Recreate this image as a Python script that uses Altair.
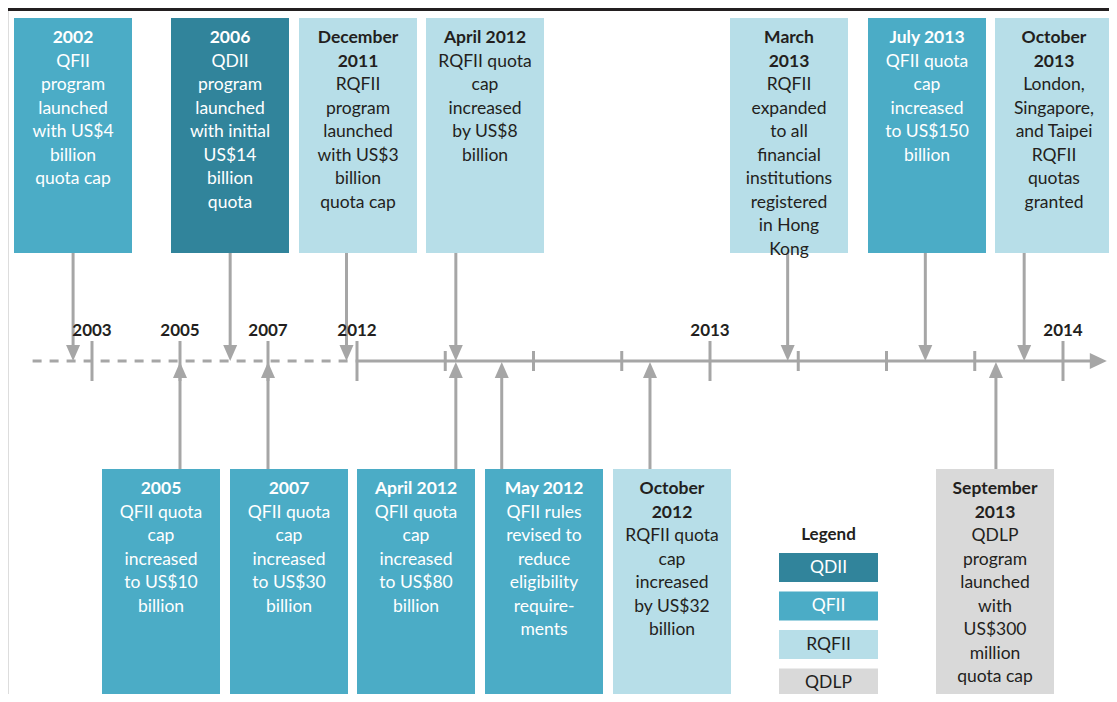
import altair as alt
import pandas as pd

# ---------------- data ----------------
titles = ["2002", "2006", "December\n2011", "April 2012", "March\n2013", "July 2013", "October\n2013",
          "2005", "2007", "April 2012", "May 2012", "October\n2012", "September\n2013"]
bodies = [
    "QFII\nprogram\nlaunched\nwith US$4\nbillion\nquota cap",
    "QDII\nprogram\nlaunched\nwith initial\nUS$14\nbillion\nquota",
    "RQFII\nprogram\nlaunched\nwith US$3\nbillion\nquota cap",
    "RQFII quota\ncap\nincreased\nby US$8\nbillion",
    "RQFII\nexpanded\nto all\nfinancial\ninstitutions\nregistered\nin Hong\nKong",
    "QFII quota\ncap\nincreased\nto US$150\nbillion",
    "London,\nSingapore,\nand Taipei\nRQFII\nquotas\ngranted",
    "QFII quota\ncap\nincreased\nto US$10\nbillion",
    "QFII quota\ncap\nincreased\nto US$30\nbillion",
    "QFII quota\ncap\nincreased\nto US$80\nbillion",
    "QFII rules\nrevised to\nreduce\neligibility\nrequire-\nments",
    "RQFII quota\ncap\nincreased\nby US$32\nbillion",
    "QDLP\nprogram\nlaunched\nwith\nUS$300\nmillion\nquota cap",
]
programs = ["QFII", "QDII", "RQFII", "RQFII", "RQFII", "QFII", "RQFII",
            "QFII", "QFII", "QFII", "QFII", "RQFII", "QDLP"]
sides = ["top"] * 7 + ["bottom"] * 6
# position of each event on the (broken) time axis, in decimal years
event_time = [2002.57, 2006.14, 2011.97, 2012.28, 2013.22, 2013.61, 2013.89,
              2005.0, 2007.0, 2012.28, 2012.41, 2012.83, 2013.81]

tick_time = [2003, 2005, 2007, 2012, 2012.25, 2012.5, 2012.75, 2013, 2013.25, 2013.5, 2013.75, 2014]
tick_label = ["2003", "2005", "2007", "2012", "", "", "", "2013", "", "", "", "2014"]

legend_items = ["QDII", "QFII", "RQFII", "QDLP"]
program_colors = ["#31849B", "#4BACC6", "#B7DEE8", "#D9D9D9"]
text_colors = {"QDII": "#FFFFFF", "QFII": "#FFFFFF", "RQFII": "#231F20", "QDLP": "#231F20"}

# ---------------- layout ----------------
box_left = [14, 171, 299, 426, 730, 868, 995, 102, 230, 357, 485, 613, 936]
BOX_W = 118
TOP_Y0, TOP_Y1 = 18, 253
BOT_Y0, BOT_Y1 = 469, 710
AXIS_Y = 361
LINE_H = 23.5
FONT = "Lato"

boxes, lines, stems = [], [], []
for t, b, p, s, left, et in zip(titles, bodies, programs, sides, box_left, event_time):
    y0, y1 = (TOP_Y0, TOP_Y1) if s == "top" else (BOT_Y0, BOT_Y1)
    boxes.append(dict(x=left, x2=left + BOX_W, y=y0, y2=y1, program=p))
    parts = [(l, True) for l in t.split("\n")] + [(l, False) for l in b.split("\n")]
    for j, (l, bold) in enumerate(parts):
        lines.append(dict(x=left + BOX_W / 2, y=y0 + 20 + j * LINE_H, text=l, bold=bold,
                          tcolor=text_colors[p]))
    if s == "top":
        stems.append(dict(t=et, y=y1, y2=AXIS_Y - 10, ah=AXIS_Y - 8, side=s))
    else:
        stems.append(dict(t=et, y=AXIS_Y + 10, y2=y0, ah=AXIS_Y + 9, side=s))

boxes = pd.DataFrame(boxes)
lines = pd.DataFrame(lines)
stems = pd.DataFrame(stems)
ticks = pd.DataFrame(dict(t=tick_time, label=tick_label))
ticks["major"] = ticks["label"] != ""
ticks["y"] = [AXIS_Y - 20 if m else AXIS_Y - 10 for m in ticks["major"]]
ticks["y2"] = [AXIS_Y + 20 if m else AXIS_Y + 10 for m in ticks["major"]]
ticks["ly"] = AXIS_Y - 30

axis_df = pd.DataFrame(dict(t0=[2001.65, 2012.0], t1=[2012.0, 2014.08], dashed=[True, False], y=[AXIS_Y, AXIS_Y]))
arrow_end = pd.DataFrame(dict(t=[2014.1], y=[AXIS_Y]))

leg = pd.DataFrame(dict(program=legend_items))
leg["y"] = [553 + i * 38.5 for i in range(len(legend_items))]
leg["y2"] = leg["y"] + 29
leg["ty"] = leg["y"] + 14.5
leg["x"] = 779
leg["x2"] = 878
leg["tx"] = 828.5
leg["tcolor"] = [text_colors[p] for p in legend_items]
leg_title = pd.DataFrame(dict(x=[828.5], y=[535], text=["Legend"]))

# ---------------- scales ----------------
W, H = 1101, 686
px_x = alt.Scale(domain=[8, 8 + W], nice=False, zero=False)
px_y = alt.Scale(domain=[8, 8 + H], reverse=True, nice=False, zero=False)
time_x = alt.Scale(domain=[2003, 2005, 2007, 2011.92, 2012, 2014],
                   range=[84, 172, 260, 321, 349, 1055], nice=False, zero=False)
col_scale = alt.Scale(domain=legend_items, range=program_colors)
GRAY = "#A6A6A6"

def X(f):
    return alt.X(f, type="quantitative", scale=px_x, axis=None)

def Y(f):
    return alt.Y(f, type="quantitative", scale=px_y, axis=None)

def T(f):
    return alt.X(f, type="quantitative", scale=time_x, axis=None)

topline = alt.Chart(pd.DataFrame(dict(a=[0]))).mark_rule(color="#231F20", strokeWidth=3).encode(
    x=alt.value(0), x2=alt.value(W), y=alt.value(1.5))

box_layer = alt.Chart(boxes).mark_rect().encode(
    x=X("x"), x2="x2", y=Y("y"), y2="y2",
    color=alt.Color("program:N", scale=col_scale, legend=None))

txt_bold = alt.Chart(lines).transform_filter("datum.bold").mark_text(
    font=FONT, fontSize=17.5, fontWeight="bold", baseline="middle", align="center").encode(
    x=X("x"), y=Y("y"), text="text:N", color=alt.Color("tcolor:N", scale=None))
txt_norm = alt.Chart(lines).transform_filter("!datum.bold").mark_text(
    font=FONT, fontSize=17.5, baseline="middle", align="center").encode(
    x=X("x"), y=Y("y"), text="text:N", color=alt.Color("tcolor:N", scale=None))

axis_dash = alt.Chart(axis_df).transform_filter("datum.dashed").mark_rule(
    color=GRAY, strokeWidth=3, strokeDash=[9, 8]).encode(x=T("t0"), x2="t1", y=Y("y"))
axis_solid = alt.Chart(axis_df).transform_filter("!datum.dashed").mark_rule(
    color=GRAY, strokeWidth=3).encode(x=T("t0"), x2="t1", y=Y("y"))
axis_head = alt.Chart(arrow_end).mark_point(
    shape="M-1,-0.95L1,0L-1,0.95Z", size=289, filled=True, color=GRAY, opacity=1, strokeWidth=0).encode(
    x=T("t"), y=Y("y"))

tick_layer = alt.Chart(ticks).mark_rule(color=GRAY, strokeWidth=3).encode(
    x=T("t"), y=Y("y"), y2="y2")
tick_text = alt.Chart(ticks).mark_text(
    font=FONT, fontSize=17, fontWeight="bold", color="#231F20", baseline="middle", align="center").encode(
    x=T("t"), y=Y("ly"), text="label:N")

stem_layer = alt.Chart(stems).mark_rule(color=GRAY, strokeWidth=3).encode(
    x=T("t"), y=Y("y"), y2="y2")
head_down = alt.Chart(stems).transform_filter("datum.side == 'top'").mark_point(
    shape="M-0.875,-1L0.875,-1L0,1Z", size=256, filled=True, color=GRAY, opacity=1, strokeWidth=0).encode(
    x=T("t"), y=Y("ah"))
head_up = alt.Chart(stems).transform_filter("datum.side == 'bottom'").mark_point(
    shape="M-0.875,1L0.875,1L0,-1Z", size=256, filled=True, color=GRAY, opacity=1, strokeWidth=0).encode(
    x=T("t"), y=Y("ah"))

leg_boxes = alt.Chart(leg).mark_rect().encode(
    x=X("x"), x2="x2", y=Y("y"), y2="y2",
    color=alt.Color("program:N", scale=col_scale, legend=None))
leg_text = alt.Chart(leg).mark_text(font=FONT, fontSize=17.5, baseline="middle", align="center").encode(
    x=X("tx"), y=Y("ty"), text="program:N", color=alt.Color("tcolor:N", scale=None))
leg_title_l = alt.Chart(leg_title).mark_text(
    font=FONT, fontSize=17, fontWeight="bold", color="#231F20", baseline="middle", align="center").encode(
    x=X("x"), y=Y("y"), text="text:N")

chart = alt.layer(
    topline, box_layer, stem_layer, axis_dash, axis_solid, axis_head, tick_layer, tick_text,
    head_down, head_up, txt_bold, txt_norm, leg_boxes, leg_text, leg_title_l
).resolve_scale(x="independent", color="independent").properties(
    width=W, height=H, autosize=alt.AutoSizeParams(type="none"), padding=0
).configure_view(stroke=None).configure(background="white")

chart.save("out.html", embed_options={"renderer": "svg", "actions": False})
